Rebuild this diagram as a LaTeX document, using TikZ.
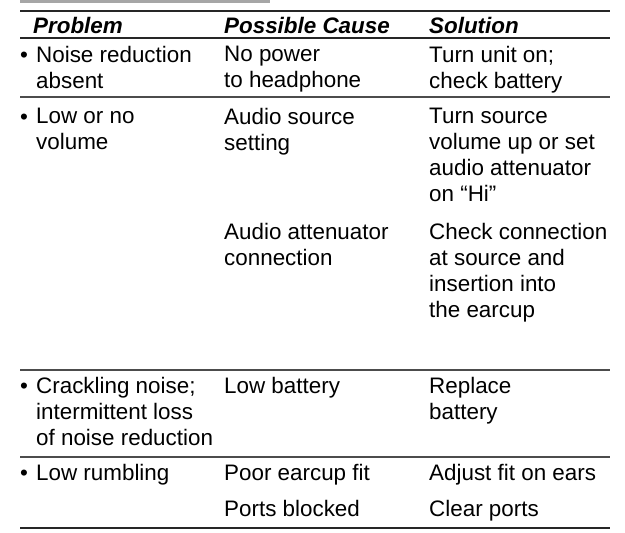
\documentclass[tikz,border=0pt]{standalone}
\usepackage{fontspec}
\setmainfont{Liberation Sans}
\begin{document}
\begin{tikzpicture}[x=1pt,y=-1pt,
  txt/.style={anchor=north west,align=left,inner sep=0pt,yshift=16pt,font=\fontsize{22.4}{26}\selectfont},
  bul/.style={anchor=base west,inner sep=0pt,font=\fontsize{22.4}{26}\selectfont},
  hd/.style={bul,font=\fontsize{22.4}{26}\selectfont\bfseries\itshape},
  rule/.style={line width=2pt,black!85},
  sep/.style={line width=1.6pt,black!70}]
\useasboundingbox (0,0) rectangle (625,533);
\fill[black!35] (20,0) rectangle (270,2.5);
\draw[rule] (20,11) -- (610,11);
\node[hd] (h1) at (33,33) {Problem};
\node[hd] (h2) at (224,33) {Possible Cause};
\node[hd] (h3) at (429,33) {Solution};
\draw[rule] (20,38) -- (610,38);
% row 1
\node[bul] (b1) at (20,62) {•};
\node[txt] (p1) at (36,62) {Noise reduction\\absent};
\node[txt] (c1) at (224,62) {No power\\to headphone};
\node[txt] (s1) at (429,62) {Turn unit on;\\check battery};
\draw[sep] (20,97) -- (610,97);
% row 2
\node[bul] (b2) at (20,124) {•};
\node[txt] (p2) at (36,124) {Low or no\\volume};
\node[txt] (c2) at (224,124) {Audio source\\setting};
\node[txt] (s2) at (429,124) {Turn source\\volume up or set\\audio attenuator\\on “Hi”};
\node[txt] (c3) at (224,239) {Audio attenuator\\connection};
\node[txt] (s3) at (429,239) {Check connection\\at source and\\insertion into\\the earcup};
\draw[sep] (20,370) -- (610,370);
% row 3
\node[bul] (b3) at (20,393) {•};
\node[txt] (p3) at (36,393) {Crackling noise;\\intermittent loss\\of noise reduction};
\node[txt] (c4) at (224,393) {Low battery};
\node[txt] (s4) at (429,393) {Replace\\battery};
\draw[sep] (20,457) -- (610,457);
% row 4
\node[bul] (b4) at (20,480) {•};
\node[txt] (p4) at (36,480) {Low rumbling};
\node[txt] (c5) at (224,480) {Poor earcup fit};
\node[txt] (s5) at (429,480) {Adjust fit on ears};
\node[txt] (c6) at (224,516) {Ports blocked};
\node[txt] (s6) at (429,516) {Clear ports};
\draw[rule] (20,528) -- (610,528);
\end{tikzpicture}
\end{document}
